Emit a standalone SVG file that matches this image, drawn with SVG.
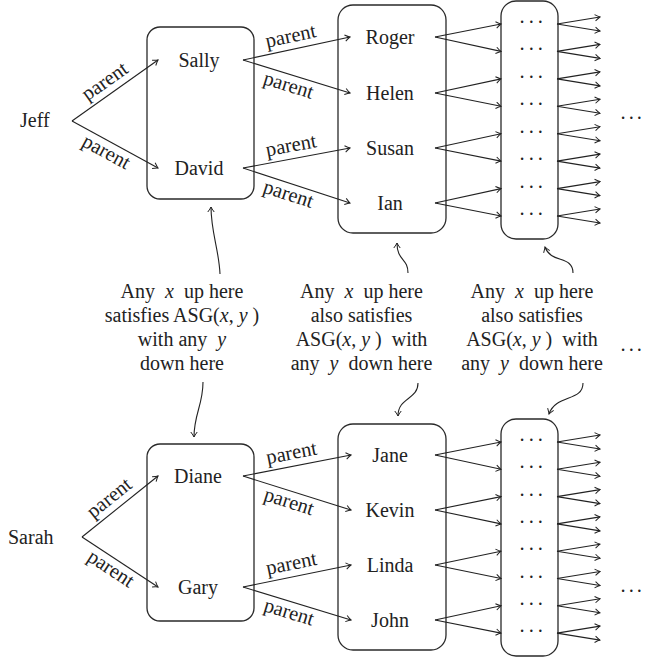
<svg xmlns="http://www.w3.org/2000/svg" width="645" height="657" viewBox="0 0 645 657">
<style>
text{font-family:"Liberation Serif","Times New Roman",serif;fill:#222}
.n{font-size:20px;text-anchor:middle}
.s{font-size:20px}
.l{font-size:20.5px;text-anchor:middle}
.b{font-size:20px;text-anchor:middle}
.d{font-size:20px;text-anchor:middle;letter-spacing:2.5px}
.m{font-size:20px;text-anchor:middle;letter-spacing:1.5px}
.i{font-style:italic}
.box{fill:none;stroke:#2a2a2a;stroke-width:1.3}
.e{fill:none;stroke:#222;stroke-width:1.1;marker-end:url(#ah)}
</style>
<defs>
<marker id="ah" viewBox="-6 -4 7 8" refX="0" refY="0" markerWidth="7" markerHeight="8" markerUnits="userSpaceOnUse" orient="auto">
<path d="M -5 -3.2 Q -1.6 -0.7 0 0 Q -1.6 0.7 -5 3.2" fill="none" stroke="#222" stroke-width="1"/>
</marker>
</defs>

<!-- upper tree -->
<g id="jeff"><text class="s" x="20" y="127">Jeff</text></g>
<g id="set-top-1"><rect class="box" x="147" y="27" width="107" height="172" rx="13"/></g>
<g id="sally"><text class="n" x="199" y="67">Sally</text></g>
<g id="david"><text class="n" x="199" y="175">David</text></g>
<g id="set-top-2"><rect class="box" x="338" y="5" width="108" height="228" rx="15"/></g>
<g id="roger"><text class="n" x="390" y="44">Roger</text></g>
<g id="helen"><text class="n" x="390" y="100">Helen</text></g>
<g id="susan"><text class="n" x="390" y="155">Susan</text></g>
<g id="ian"><text class="n" x="390" y="210">Ian</text></g>
<g id="set-top-3"><rect class="box" x="501" y="1" width="57" height="238" rx="15"/>
<text class="d" x="532.5" y="29">···</text>
<text class="d" x="532.5" y="56.4">···</text>
<text class="d" x="532.5" y="83.9">···</text>
<text class="d" x="532.5" y="111.3">···</text>
<text class="d" x="532.5" y="138.7">···</text>
<text class="d" x="532.5" y="166.1">···</text>
<text class="d" x="532.5" y="193.6">···</text>
<text class="d" x="532.5" y="221">···</text>
</g>
<g id="more-top"><text class="m" x="632" y="125">···</text></g>

<!-- lower tree -->
<g id="sarah"><text class="s" x="8" y="544">Sarah</text></g>
<g id="set-bot-1"><rect class="box" x="147" y="444" width="107" height="177" rx="13"/></g>
<g id="diane"><text class="n" x="198" y="483">Diane</text></g>
<g id="gary"><text class="n" x="198" y="594">Gary</text></g>
<g id="set-bot-2"><rect class="box" x="338" y="424" width="108" height="226" rx="15"/></g>
<g id="jane"><text class="n" x="390" y="462">Jane</text></g>
<g id="kevin"><text class="n" x="390" y="517">Kevin</text></g>
<g id="linda"><text class="n" x="390" y="572">Linda</text></g>
<g id="john"><text class="n" x="390" y="627">John</text></g>
<g id="set-bot-3"><rect class="box" x="501" y="419" width="57" height="237" rx="15"/>
<text class="d" x="532.5" y="447">···</text>
<text class="d" x="532.5" y="474.3">···</text>
<text class="d" x="532.5" y="501.6">···</text>
<text class="d" x="532.5" y="528.9">···</text>
<text class="d" x="532.5" y="556.2">···</text>
<text class="d" x="532.5" y="583.5">···</text>
<text class="d" x="532.5" y="610.8">···</text>
<text class="d" x="532.5" y="638.1">···</text>
</g>
<g id="more-bot"><text class="m" x="632" y="598">···</text></g>

<!-- notes -->
<g id="note-1">
<text class="b" x="182" y="298">Any&#160; <tspan class="i">x</tspan>&#160; up here</text>
<text class="b" x="182" y="322">satisfies ASG(<tspan class="i">x</tspan>, <tspan class="i">y</tspan> )</text>
<text class="b" x="182" y="346">with any&#160; <tspan class="i">y</tspan></text>
<text class="b" x="182" y="370">down here</text>
</g>
<g id="note-2">
<text class="b" x="361.5" y="298">Any&#160; <tspan class="i">x</tspan>&#160; up here</text>
<text class="b" x="361.5" y="322">also satisfies</text>
<text class="b" x="361.5" y="346">ASG(<tspan class="i">x</tspan>, <tspan class="i">y</tspan> )&#160; with</text>
<text class="b" x="361.5" y="370">any&#160; <tspan class="i">y</tspan>&#160; down here</text>
</g>
<g id="note-3">
<text class="b" x="532" y="298">Any&#160; <tspan class="i">x</tspan>&#160; up here</text>
<text class="b" x="532" y="322">also satisfies</text>
<text class="b" x="532" y="346">ASG(<tspan class="i">x</tspan>, <tspan class="i">y</tspan> )&#160; with</text>
<text class="b" x="532" y="370">any&#160; <tspan class="i">y</tspan>&#160; down here</text>
</g>
<g id="more-mid"><text class="m" x="632" y="357">···</text></g>

<g id="connectors">
<!-- upper parent edges -->
<path class="e" d="M72 121 L158 60"/>
<path class="e" d="M72 121 L158 168"/>
<path class="e" d="M243 60 L350 37"/>
<path class="e" d="M243 60 L350 93"/>
<path class="e" d="M243 168 L350 148"/>
<path class="e" d="M243 168 L350 203"/>
<!-- lower parent edges -->
<path class="e" d="M82 537 L158 476"/>
<path class="e" d="M82 537 L158 587"/>
<path class="e" d="M243 476 L351 455"/>
<path class="e" d="M243 476 L351 510"/>
<path class="e" d="M243 587 L351 565"/>
<path class="e" d="M243 587 L351 620"/>
<!-- edge labels -->
<text class="l" transform="translate(115 90.5) rotate(-35.35)" x="-3" y="-7">parent</text>
<text class="l" transform="translate(115 144.5) rotate(28.65)" x="-4" y="17">parent</text>
<text class="l" transform="translate(296.5 48.5) rotate(-12.13)" x="-3" y="-7">parent</text>
<text class="l" transform="translate(296.5 76.5) rotate(17.14)" x="-5" y="17">parent</text>
<text class="l" transform="translate(296.5 158) rotate(-10.59)" x="-3" y="-7">parent</text>
<text class="l" transform="translate(296.5 185.5) rotate(18.11)" x="-5" y="17">parent</text>
<text class="l" transform="translate(120 506.5) rotate(-38.75)" x="-3" y="-7">parent</text>
<text class="l" transform="translate(120 562) rotate(33.34)" x="-4" y="17">parent</text>
<text class="l" transform="translate(297 465.5) rotate(-11)" x="-3" y="-7">parent</text>
<text class="l" transform="translate(297 493) rotate(17.48)" x="-5" y="17">parent</text>
<text class="l" transform="translate(297 576) rotate(-11.51)" x="-3" y="-7">parent</text>
<text class="l" transform="translate(297 603.5) rotate(16.99)" x="-5" y="17">parent</text>
<!-- upper fans to third column -->
<path class="e" d="M435 37 L501 24"/><path class="e" d="M435 37 L501 51.4"/>
<path class="e" d="M435 93 L501 78.9"/><path class="e" d="M435 93 L501 106.3"/>
<path class="e" d="M435 148 L501 133.7"/><path class="e" d="M435 148 L501 161.1"/>
<path class="e" d="M435 203 L501 188.6"/><path class="e" d="M435 203 L501 216"/>
<!-- upper fans out -->
<path class="e" d="M557 24 L600 17"/><path class="e" d="M557 24 L600 31"/>
<path class="e" d="M557 51.4 L600 44.4"/><path class="e" d="M557 51.4 L600 58.4"/>
<path class="e" d="M557 78.9 L600 71.9"/><path class="e" d="M557 78.9 L600 85.9"/>
<path class="e" d="M557 106.3 L600 99.3"/><path class="e" d="M557 106.3 L600 113.3"/>
<path class="e" d="M557 133.7 L600 126.7"/><path class="e" d="M557 133.7 L600 140.7"/>
<path class="e" d="M557 161.1 L600 154.1"/><path class="e" d="M557 161.1 L600 168.1"/>
<path class="e" d="M557 188.6 L600 181.6"/><path class="e" d="M557 188.6 L600 195.6"/>
<path class="e" d="M557 216 L600 209"/><path class="e" d="M557 216 L600 223"/>
<!-- lower fans to third column -->
<path class="e" d="M435 455 L501 442"/><path class="e" d="M435 455 L501 469.3"/>
<path class="e" d="M435 510 L501 496.6"/><path class="e" d="M435 510 L501 523.9"/>
<path class="e" d="M435 565 L501 551.2"/><path class="e" d="M435 565 L501 578.5"/>
<path class="e" d="M435 620 L501 605.8"/><path class="e" d="M435 620 L501 633.1"/>
<!-- lower fans out -->
<path class="e" d="M557 442 L600 435"/><path class="e" d="M557 442 L600 449"/>
<path class="e" d="M557 469.3 L600 462.3"/><path class="e" d="M557 469.3 L600 476.3"/>
<path class="e" d="M557 496.6 L600 489.6"/><path class="e" d="M557 496.6 L600 503.6"/>
<path class="e" d="M557 523.9 L600 516.9"/><path class="e" d="M557 523.9 L600 530.9"/>
<path class="e" d="M557 551.2 L600 544.2"/><path class="e" d="M557 551.2 L600 558.2"/>
<path class="e" d="M557 578.5 L600 571.5"/><path class="e" d="M557 578.5 L600 585.5"/>
<path class="e" d="M557 605.8 L600 598.8"/><path class="e" d="M557 605.8 L600 612.8"/>
<path class="e" d="M557 633.1 L600 626.1"/><path class="e" d="M557 633.1 L600 640.1"/>
<!-- note pointers -->
<path class="e" d="M220 274 C219 250 211 232 211 207"/>
<path class="e" d="M203 382 C203 405 194 414 194 437"/>
<path class="e" d="M408 273 C408 258 397 261 397 243"/>
<path class="e" d="M418 383 C418 400 398 397 398 416"/>
<path class="e" d="M573 273 C573 255 551 264 545 247"/>
<path class="e" d="M583 383 C583 402 556 394 549 414"/>
</g>
</svg>
